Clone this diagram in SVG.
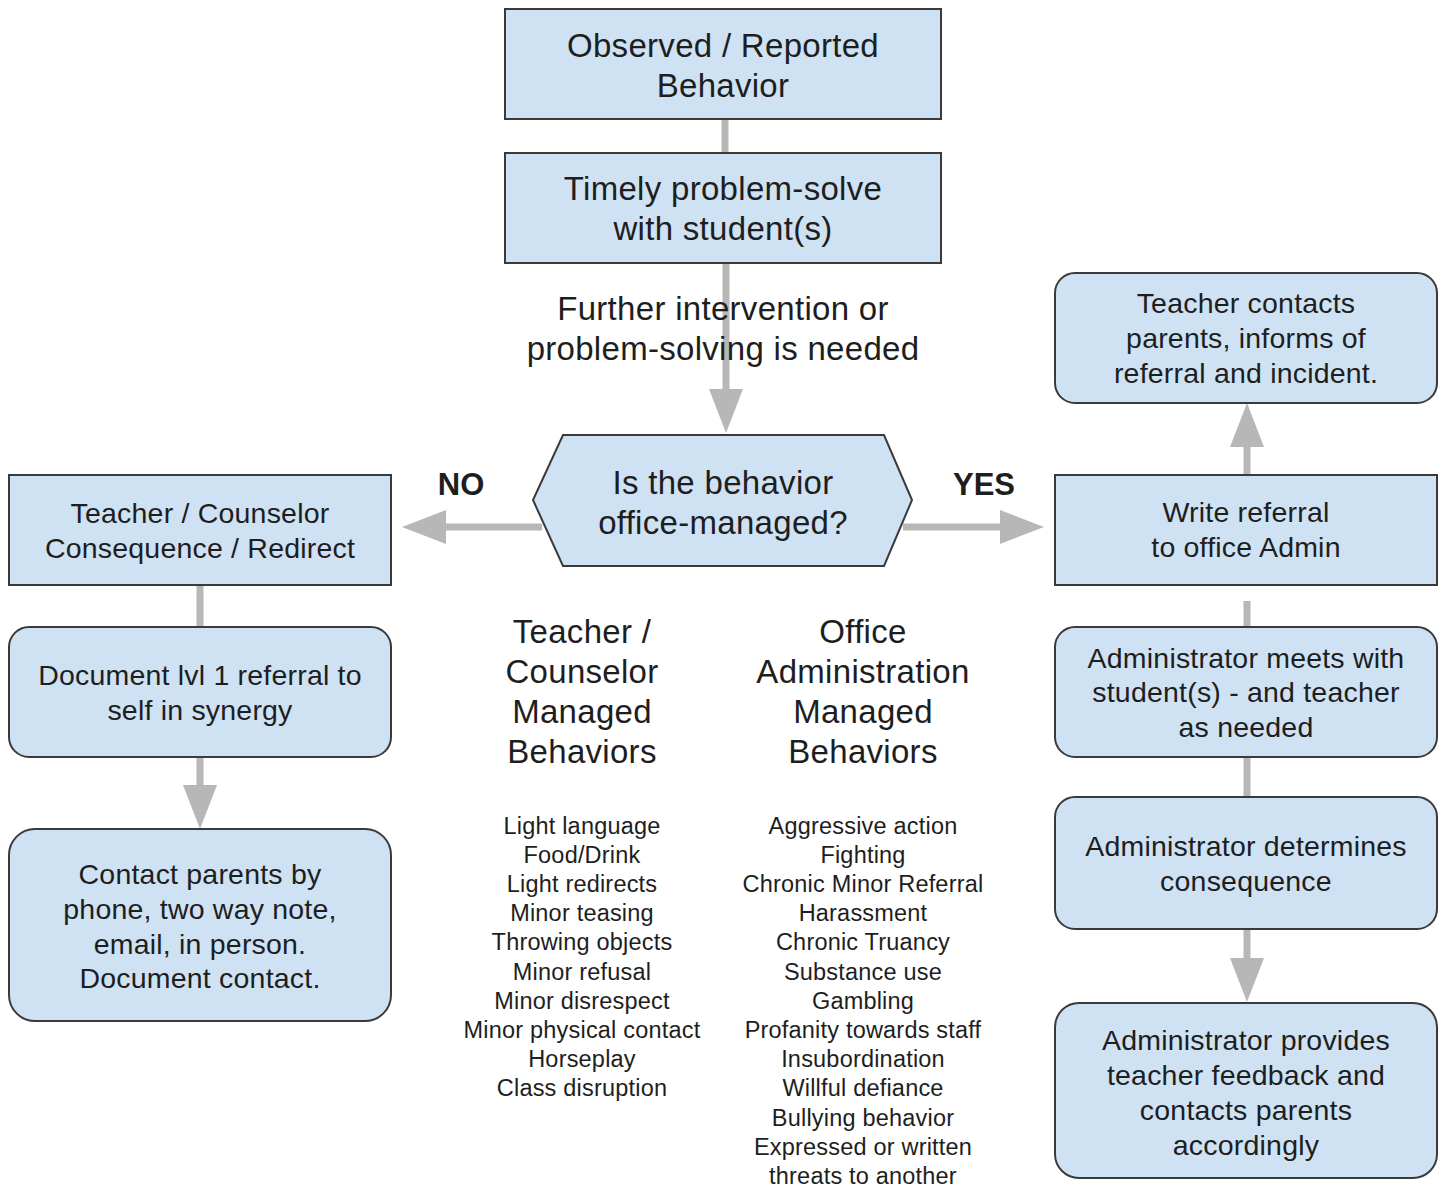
<svg xmlns="http://www.w3.org/2000/svg" width="1445" height="1187" viewBox="0 0 1445 1187">
<defs>
<style>
.box{fill:#cfe2f3;stroke:#3a3a3a;stroke-width:2}
.con{stroke:#b7b7b7;stroke-width:7;fill:none}
text{font-family:"Liberation Sans",Arial,sans-serif;fill:#1e1e1e;text-anchor:middle}
.t33{font-size:33px;letter-spacing:0.3px}
.t28{font-size:28.5px;letter-spacing:0.2px}
.t23{font-size:23.5px;letter-spacing:0.2px}
.b{font-size:31px;font-weight:bold}
</style>
<marker id="ah" viewBox="0 0 44 34" markerWidth="44" markerHeight="34" refX="0" refY="17" markerUnits="userSpaceOnUse" orient="auto">
<path d="M0,0 L44,17 L0,34 Z" fill="#b7b7b7"/>
</marker>
</defs>
<rect width="1445" height="1187" fill="#ffffff"/>
<g id="connectors">
<line class="con" x1="725" y1="119" x2="725" y2="153"/>
<line class="con" x1="726" y1="263" x2="726" y2="389" marker-end="url(#ah)"/>
<line class="con" x1="542" y1="527" x2="446" y2="527" marker-end="url(#ah)"/>
<line class="con" x1="903" y1="527" x2="1000" y2="527" marker-end="url(#ah)"/>
<line class="con" x1="1247" y1="475" x2="1247" y2="447" marker-end="url(#ah)"/>
<line class="con" x1="1247" y1="601" x2="1247" y2="627"/>
<line class="con" x1="1247" y1="757" x2="1247" y2="797"/>
<line class="con" x1="1247" y1="929" x2="1247" y2="958" marker-end="url(#ah)"/>
<line class="con" x1="200" y1="585" x2="200" y2="627"/>
<line class="con" x1="200" y1="757" x2="200" y2="785" marker-end="url(#ah)"/>
</g>
<g id="observed">
<rect class="box" x="505" y="9" width="436" height="110"/>
<text class="t33" x="723" y="57">Observed / Reported</text>
<text class="t33" x="723" y="97">Behavior</text>
</g>
<g id="timely">
<rect class="box" x="505" y="153" width="436" height="110"/>
<text class="t33" x="723" y="200">Timely problem-solve</text>
<text class="t33" x="723" y="240">with student(s)</text>
</g>
<g id="further-label">
<text class="t33" x="723" y="320">Further intervention or</text>
<text class="t33" x="723" y="360">problem-solving is needed</text>
</g>
<g id="decision">
<polygon class="box" points="563,435 884,435 912,500 884,566 563,566 533,500"/>
<text class="t33" x="723" y="494">Is the behavior</text>
<text class="t33" x="723" y="534">office-managed?</text>
</g>
<g id="no-label"><text class="b" x="461" y="495">NO</text></g>
<g id="yes-label"><text class="b" x="984" y="495">YES</text></g>
<g id="teacher-consequence">
<rect class="box" x="9" y="475" width="382" height="110"/>
<text class="t28" x="200" y="523">Teacher / Counselor</text>
<text class="t28" x="200" y="558">Consequence / Redirect</text>
</g>
<g id="document">
<rect class="box" x="9" y="627" width="382" height="130" rx="20" ry="20"/>
<text class="t28" x="200" y="685">Document lvl 1 referral to</text>
<text class="t28" x="200" y="720">self in synergy</text>
</g>
<g id="contact-parents">
<rect class="box" x="9" y="829" width="382" height="192" rx="26" ry="26"/>
<text class="t28" x="200" y="884">Contact parents by</text>
<text class="t28" x="200" y="919">phone, two way note,</text>
<text class="t28" x="200" y="954">email, in person.</text>
<text class="t28" x="200" y="988">Document contact.</text>
</g>
<g id="teacher-heading">
<text class="t33" x="582" y="643">Teacher /</text>
<text class="t33" x="582" y="683">Counselor</text>
<text class="t33" x="582" y="723">Managed</text>
<text class="t33" x="582" y="763">Behaviors</text>
</g>
<g id="office-heading">
<text class="t33" x="863" y="643">Office</text>
<text class="t33" x="863" y="683">Administration</text>
<text class="t33" x="863" y="723">Managed</text>
<text class="t33" x="863" y="763">Behaviors</text>
</g>
<g id="teacher-list">
<text class="t23" x="582" y="834">Light language</text>
<text class="t23" x="582" y="863">Food/Drink</text>
<text class="t23" x="582" y="892">Light redirects</text>
<text class="t23" x="582" y="921">Minor teasing</text>
<text class="t23" x="582" y="950">Throwing objects</text>
<text class="t23" x="582" y="980">Minor refusal</text>
<text class="t23" x="582" y="1009">Minor disrespect</text>
<text class="t23" x="582" y="1038">Minor physical contact</text>
<text class="t23" x="582" y="1067">Horseplay</text>
<text class="t23" x="582" y="1096">Class disruption</text>
</g>
<g id="office-list">
<text class="t23" x="863" y="834">Aggressive action</text>
<text class="t23" x="863" y="863">Fighting</text>
<text class="t23" x="863" y="892">Chronic Minor Referral</text>
<text class="t23" x="863" y="921">Harassment</text>
<text class="t23" x="863" y="950">Chronic Truancy</text>
<text class="t23" x="863" y="980">Substance use</text>
<text class="t23" x="863" y="1009">Gambling</text>
<text class="t23" x="863" y="1038">Profanity towards staff</text>
<text class="t23" x="863" y="1067">Insubordination</text>
<text class="t23" x="863" y="1096">Willful defiance</text>
<text class="t23" x="863" y="1126">Bullying behavior</text>
<text class="t23" x="863" y="1155">Expressed or written</text>
<text class="t23" x="863" y="1184">threats to another</text>
</g>
<g id="teacher-contacts">
<rect class="box" x="1055" y="273" width="382" height="130" rx="20" ry="20"/>
<text class="t28" x="1246" y="313">Teacher contacts</text>
<text class="t28" x="1246" y="348">parents, informs of</text>
<text class="t28" x="1246" y="383">referral and incident.</text>
</g>
<g id="write-referral">
<rect class="box" x="1055" y="475" width="382" height="110"/>
<text class="t28" x="1246" y="522">Write referral</text>
<text class="t28" x="1246" y="557">to office Admin</text>
</g>
<g id="admin-meets">
<rect class="box" x="1055" y="627" width="382" height="130" rx="20" ry="20"/>
<text class="t28" x="1246" y="668">Administrator meets with</text>
<text class="t28" x="1246" y="702">student(s) - and teacher</text>
<text class="t28" x="1246" y="737">as needed</text>
</g>
<g id="admin-determines">
<rect class="box" x="1055" y="797" width="382" height="132" rx="20" ry="20"/>
<text class="t28" x="1246" y="856">Administrator determines</text>
<text class="t28" x="1246" y="891">consequence</text>
</g>
<g id="admin-provides">
<rect class="box" x="1055" y="1003" width="382" height="175" rx="24" ry="24"/>
<text class="t28" x="1246" y="1050">Administrator provides</text>
<text class="t28" x="1246" y="1085">teacher feedback and</text>
<text class="t28" x="1246" y="1120">contacts parents</text>
<text class="t28" x="1246" y="1155">accordingly</text>
</g>
</svg>
